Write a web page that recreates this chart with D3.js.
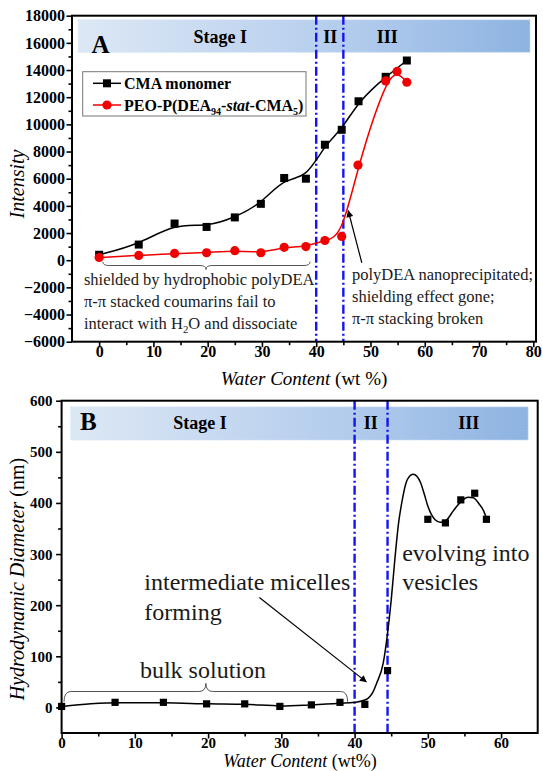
<!DOCTYPE html>
<html>
<head>
<meta charset="utf-8">
<script src="https://cdn.jsdelivr.net/npm/d3@7"></script>
<style>
  body { margin: 0; background: #fff; }
  svg { display: block; }
  text { font-family: "Liberation Serif", "Times New Roman", serif; }
</style>
</head>
<body>
<svg id="chart" width="543" height="771"></svg>
<script>
// ---------- Panel A: fluorescence intensity vs water content ----------
const waterMonomer = [0, 7.3, 13.9, 19.8, 25, 29.8, 34.1, 38.1, 41.6, 44.7, 47.8, 52.8, 56.7];
const intensityMonomer = [400, 1150, 2700, 2450, 3150, 4150, 6050, 6000, 8500, 9600, 11700, 13500, 14700];
const waterPolymer = [0, 7.3, 13.9, 19.8, 25, 29.8, 34.1, 38.1, 41.6, 44.7, 47.7, 52.8, 54.9, 56.7];
const intensityPolymer = [200, 350, 500, 550, 700, 550, 950, 1000, 1450, 1750, 7000, 13200, 13900, 13100];
const ticksAx = [0, 10, 20, 30, 40, 50, 60, 70, 80];
const ticksAy = [-6000, -4000, -2000, 0, 2000, 4000, 6000, 8000, 10000, 12000, 14000, 16000, 18000];
const stageBoundsA = [40, 45];

// ---------- Panel B: hydrodynamic diameter vs water content ----------
const waterB = [0, 7.3, 13.9, 19.8, 25, 29.8, 34.1, 38, 41.4, 44.5, 50, 52.4, 54.5, 56.4, 58];
const diameterB = [2, 10, 10, 7, 7, 2, 5, 10, 6, 72, 368, 361, 406, 419, 368];
// guide-to-the-eye curve through the size data
const fitWater = [0, 4, 8, 14, 20, 25, 30, 34, 38, 40, 41.5, 42.5, 43, 43.9, 44.5, 45, 45.5, 46, 46.5, 47, 47.5, 48, 48.5, 49, 49.5, 50, 50.5, 51, 51.7, 52.5, 53.5, 54.5, 55.5, 56.2, 57, 57.6, 58];
const fitDiameter = [2, 7, 9, 9, 7, 6, 3, 5, 8, 10, 15, 30, 47, 86, 145, 210, 290, 360, 405, 438, 452, 456, 452, 440, 418, 394, 377, 367, 362, 366, 385, 402, 411, 410, 398, 385, 370];
const ticksBx = [0, 10, 20, 30, 40, 50, 60];
const ticksBy = [0, 100, 200, 300, 400, 500, 600];
const stageBoundsB = [40, 44.5];

const svg = d3.select("#chart");
const blue = "#1414f0";

// shared band gradient
const defs = svg.append("defs");
const grad = defs.append("linearGradient").attr("id", "stageGrad");
grad.append("stop").attr("offset", "0%").attr("stop-color", "#dde8f5");
grad.append("stop").attr("offset", "60%").attr("stop-color", "#b3cced");
grad.append("stop").attr("offset", "100%").attr("stop-color", "#8db3e1");
defs.append("marker").attr("id", "arrow").attr("viewBox", "0 0 10 10")
  .attr("refX", 9).attr("refY", 5).attr("markerWidth", 9).attr("markerHeight", 7)
  .attr("markerUnits", "userSpaceOnUse").attr("orient", "auto")
  .append("path").attr("d", "M0,0 L10,5 L0,10 Z").attr("fill", "#000");

function frame(x, y, majorX, majorY, minorX, minorY, xLabelY, yLabelX, fontSize) {
  const [x0, x1] = x.range(), [y0, y1] = y.range();
  const g = svg.append("g");
  // minor ticks
  g.append("g").attr("transform", `translate(0,${y0})`)
    .call(d3.axisBottom(x).tickValues(minorX).tickSize(3.5).tickFormat(""))
    .call(s => s.select(".domain").remove());
  g.append("g").attr("transform", `translate(${x0},0)`)
    .call(d3.axisLeft(y).tickValues(minorY).tickSize(3.5).tickFormat(""))
    .call(s => s.select(".domain").remove());
  // major ticks + labels
  g.append("g").attr("transform", `translate(0,${y0})`)
    .call(d3.axisBottom(x).tickValues(majorX).tickSize(5.5).tickFormat(d3.format("d")))
    .call(s => s.select(".domain").remove())
    .call(s => s.selectAll("text").attr("y", xLabelY).attr("dy", "0.35em")
      .attr("font-size", fontSize).attr("font-weight", "bold")
      .attr("font-family", "Liberation Serif, serif").attr("fill", "#000"));
  g.append("g").attr("transform", `translate(${x0},0)`)
    .call(d3.axisLeft(y).tickValues(majorY).tickSize(5.5).tickFormat(d3.format("d")))
    .call(s => s.select(".domain").remove())
    .call(s => s.selectAll("text").attr("x", -yLabelX).attr("dy", "0.33em")
      .attr("font-size", fontSize).attr("font-weight", "bold")
      .attr("font-family", "Liberation Serif, serif").attr("fill", "#000"));
  g.selectAll(".tick line").attr("stroke", "#000").attr("stroke-width", 1.6);
  return g;
}

function band(x, y, xs, ys) {
  svg.append("rect")
    .attr("x", x(xs[0])).attr("width", x(xs[1]) - x(xs[0]))
    .attr("y", y(ys[1])).attr("height", y(ys[0]) - y(ys[1]))
    .attr("fill", "url(#stageGrad)")
    .attr("stroke", "#d6e3f3").attr("stroke-width", 1).attr("stroke-dasharray", "1.5,1.5");
}

function border(x, y) {
  const [x0, x1] = x.range(), [y0, y1] = y.range();
  svg.append("rect").attr("x", x0).attr("y", y1).attr("width", x1 - x0).attr("height", y0 - y1)
    .attr("fill", "none").attr("stroke", "#000").attr("stroke-width", 2);
}

function stageLines(x, y, bounds) {
  const [y0, y1] = y.range();
  svg.append("g").selectAll("line").data(bounds).join("line")
    .attr("x1", d => x(d)).attr("x2", d => x(d))
    .attr("y1", y1).attr("y2", y0)
    .attr("stroke", blue).attr("stroke-width", 2.4)
    .attr("stroke-dasharray", "9,3,2,3");
}

function label(x, y, str, opts = {}) {
  return svg.append("text").attr("x", x).attr("y", y)
    .attr("font-size", opts.size || 18).attr("font-weight", opts.weight || "bold")
    .attr("text-anchor", opts.anchor || "middle").attr("dy", "0.35em")
    .attr("fill", opts.fill || "#000").text(str);
}

function brace(x1, x2, xm, yEnd, yMid, yTip, r) {
  const p = `M${x1},${yEnd} Q${x1},${yMid} ${x1 + r},${yMid} L${xm - r},${yMid} Q${xm},${yMid} ${xm},${yTip}` +
            ` Q${xm},${yMid} ${xm + r},${yMid} L${x2 - r},${yMid} Q${x2},${yMid} ${x2},${yEnd}`;
  svg.append("path").attr("d", p).attr("fill", "none").attr("stroke", "#555").attr("stroke-width", 1);
}

function textLines(x, y0, lh, size, lines) {
  lines.forEach((ln, i) => {
    const t = svg.append("text").attr("x", x).attr("y", y0 + i * lh).attr("dy", "0.33em")
      .attr("font-size", size).attr("fill", "#1a1a1a");
    ln.forEach(part => {
      const s = t.append("tspan").text(part.t);
      if (part.sub) s.attr("font-size", size * 0.65).attr("dy", 4);
      if (part.up) s.attr("dy", -4);
    });
  });
}

// ================= Panel A =================
const xA = d3.scaleLinear().domain([-5, 80.5]).range([72, 536]);
const yA = d3.scaleLinear().domain([-6000, 18000]).range([341.7, 15.7]);

band(xA, yA, [-3.85, 79.4], [15300, 17700]);
frame(xA, yA, ticksAx, ticksAy,
  d3.range(5, 80, 10), d3.range(-5000, 18000, 2000), 10, 7, 16);
stageLines(xA, yA, stageBoundsA);

label(xA(-1.4), yA(15930), "A", { size: 25, anchor: "start" });
label(xA(22.3), yA(16450), "Stage I", { size: 18 });
label(xA(42.6), yA(16450), "II", { size: 18 });
label(xA(53.1), yA(16450), "III", { size: 18 });

const lineA = d3.line().curve(d3.curveBasis);
svg.append("path")
  .attr("d", lineA(waterMonomer.map((w, i) => [xA(w), yA(intensityMonomer[i])])))
  .attr("fill", "none").attr("stroke", "#000").attr("stroke-width", 1.5);
svg.append("path")
  .attr("d", lineA(waterPolymer.map((w, i) => [xA(w), yA(intensityPolymer[i])])))
  .attr("fill", "none").attr("stroke", "#f00000").attr("stroke-width", 1.5);
svg.append("g").selectAll("rect").data(waterMonomer).join("rect")
  .attr("x", (d) => xA(d) - 4).attr("y", (d, i) => yA(intensityMonomer[i]) - 4)
  .attr("width", 8).attr("height", 8).attr("fill", "#000");
svg.append("g").selectAll("circle").data(waterPolymer).join("circle")
  .attr("cx", d => xA(d)).attr("cy", (d, i) => yA(intensityPolymer[i]))
  .attr("r", 4.6).attr("fill", "#f00000");

// legend
const leg = svg.append("g");
leg.append("rect").attr("x", 82.7).attr("y", 71.7).attr("width", 223.3).attr("height", 44.3)
  .attr("fill", "#fff").attr("stroke", "#777").attr("stroke-width", 1);
leg.append("line").attr("x1", 93).attr("x2", 121).attr("y1", 83.3).attr("y2", 83.3)
  .attr("stroke", "#000").attr("stroke-width", 1.5);
leg.append("rect").attr("x", 103).attr("y", 79.3).attr("width", 8).attr("height", 8).attr("fill", "#000");
leg.append("line").attr("x1", 93).attr("x2", 121).attr("y1", 105).attr("y2", 105)
  .attr("stroke", "#f00000").attr("stroke-width", 1.5);
leg.append("circle").attr("cx", 107).attr("cy", 105).attr("r", 4.6).attr("fill", "#f00000");
leg.append("text").attr("x", 124).attr("y", 83.3).attr("dy", "0.35em")
  .attr("font-size", 16).attr("font-weight", "bold").text("CMA monomer");
const t2 = leg.append("text").attr("x", 124).attr("y", 105).attr("dy", "0.35em")
  .attr("font-size", 16).attr("font-weight", "bold");
t2.append("tspan").text("PEO-P(DEA");
t2.append("tspan").attr("font-size", 10).attr("dy", 4).text("94");
t2.append("tspan").attr("dy", -4).text("-");
t2.append("tspan").attr("font-style", "italic").text("stat");
t2.append("tspan").text("-CMA");
t2.append("tspan").attr("font-size", 10).attr("dy", 4).text("5");
t2.append("tspan").attr("dy", -4).text(")");

// annotations A
brace(xA(0.68), xA(38.86), xA(19.7), 261.7, 265.5, 269.5, 6);
textLines(xA(-2.8), 280, 21.6, 16.5, [
  [{ t: "shielded by hydrophobic polyDEA" }],
  [{ t: "\u03c0-\u03c0 stacked coumarins fail to" }],
  [{ t: "interact with H" }, { t: "2", sub: true }, { t: "O and dissociate", up: true }]
]);
textLines(xA(46.6), 275, 21.7, 16.5, [
  [{ t: "polyDEA nanoprecipitated;" }],
  [{ t: "shielding effect gone;" }],
  [{ t: "\u03c0-\u03c0 stacking broken" }]
]);
svg.append("line").attr("x1", xA(48.4)).attr("y1", yA(-186)).attr("x2", xA(45.9)).attr("y2", yA(3642))
  .attr("stroke", "#000").attr("stroke-width", 1.2).attr("marker-end", "url(#arrow)");

border(xA, yA);

// axis titles A
const titleA = svg.append("text").attr("x", 304).attr("y", 384.5).attr("text-anchor", "middle")
  .attr("font-size", 19);
titleA.append("tspan").attr("font-style", "italic").text("Water Content ");
titleA.append("tspan").text("(wt %)");
svg.append("text").attr("transform", "translate(23.5,184) rotate(-90)").attr("text-anchor", "middle")
  .attr("font-size", 20).attr("font-style", "italic").text("Intensity");

// ================= Panel B =================
const xB = d3.scaleLinear().domain([0, 65]).range([61.6, 537.7]);
const yB = d3.scaleLinear().domain([-50, 600]).range([733, 400.7]);

band(xB, yB, [1.24, 63.7], [523, 588]);
frame(xB, yB, ticksBx, ticksBy,
  d3.range(5, 65, 10), d3.range(50, 600, 100), 9.5, 9, 15);
stageLines(xB, yB, stageBoundsB);

label(xB(2.5), yB(559), "B", { size: 25, anchor: "start" });
label(xB(18.9), yB(556), "Stage I", { size: 18 });
label(xB(42.2), yB(556), "II", { size: 18 });
label(xB(55.6), yB(556), "III", { size: 18 });

svg.append("path")
  .attr("d", d3.line().curve(d3.curveMonotoneX)(fitWater.map((w, i) => [xB(w), yB(fitDiameter[i])])))
  .attr("fill", "none").attr("stroke", "#000").attr("stroke-width", 1.5);
svg.append("g").selectAll("rect").data(waterB).join("rect")
  .attr("x", d => xB(d) - 3.6).attr("y", (d, i) => yB(diameterB[i]) - 3.6)
  .attr("width", 7.2).attr("height", 7.2).attr("fill", "#000");

// annotations B
brace(xB(0.33), xB(39.05), xB(19.7), 701.7, 691.5, 683.3, 7);
textLines(xB(11.3), 581.7, 30, 24, [[{ t: "intermediate micelles" }], [{ t: "forming" }]]);
textLines(xB(46.5), 553.3, 28.5, 24, [[{ t: "evolving into" }], [{ t: "vesicles" }]]);
svg.append("text").attr("x", xB(19.3)).attr("y", 670).attr("dy", "0.33em").attr("text-anchor", "middle")
  .attr("font-size", 24).attr("fill", "#1a1a1a").text("bulk solution");
svg.append("line").attr("x1", xB(27)).attr("y1", yB(215)).attr("x2", xB(41.6)).attr("y2", yB(50))
  .attr("stroke", "#000").attr("stroke-width", 1.2).attr("marker-end", "url(#arrow)");

border(xB, yB);

const titleB = svg.append("text").attr("x", 300).attr("y", 767.3).attr("text-anchor", "middle")
  .attr("font-size", 18);
titleB.append("tspan").attr("font-style", "italic").text("Water Content ");
titleB.append("tspan").text("(wt%)");
const yTitleB = svg.append("text").attr("transform", "translate(24,579) rotate(-90)")
  .attr("text-anchor", "middle").attr("font-size", 20);
yTitleB.append("tspan").attr("font-style", "italic").text("Hydrodynamic Diameter ");
yTitleB.append("tspan").text("(nm)");
</script>
</body>
</html>
